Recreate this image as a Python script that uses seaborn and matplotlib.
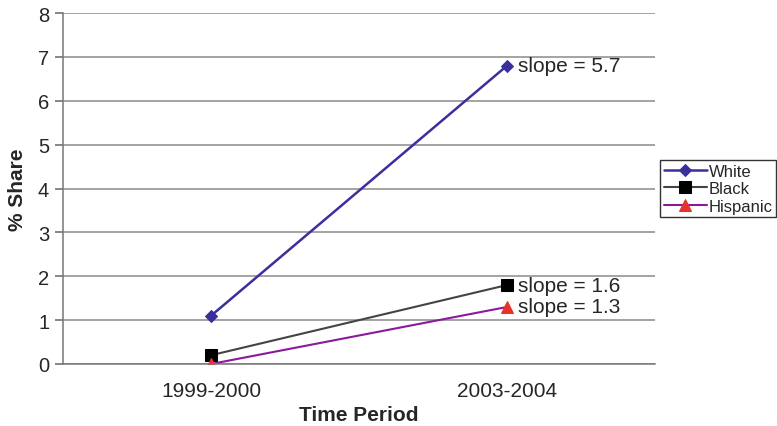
import matplotlib
matplotlib.use("Agg")
import matplotlib.pyplot as plt
import seaborn as sns
import pandas as pd

periods = ["1999-2000", "2003-2004"]
groups = ["White", "Black", "Hispanic"]
white = [1.1, 6.8]
black = [0.2, 1.8]
hispanic = [0.0, 1.3]
slope_labels = ["slope = 5.7", "slope = 1.6", "slope = 1.3"]
y_ticks = [0, 1, 2, 3, 4, 5, 6, 7, 8]

sns.set_theme(style="white")
plt.rcParams["font.family"] = ["Liberation Sans", "DejaVu Sans"]

x_pos = [0.5, 1.5]
df = pd.DataFrame({
    "x": x_pos * 3,
    "share": white + black + hispanic,
    "group": [g for g in groups for _ in periods],
})

styles = {
    "White": dict(color="#3b2f9e", marker="D", markersize=6.5,
                  markerfacecolor="#3b2f9e", markeredgecolor="#3b2f9e", lw=1.8),
    "Black": dict(color="#444444", marker="s", markersize=8,
                  markerfacecolor="black", markeredgecolor="black", lw=1.5),
    "Hispanic": dict(color="#8b1a9b", marker="^", markersize=9,
                     markerfacecolor="#e8322a", markeredgecolor="#e8322a", lw=1.5),
}

fig = plt.figure(figsize=(7.77, 4.27), dpi=100)
ax = fig.add_axes([0.0811, 0.1452, 0.7620, 0.8220])

for g in groups:
    sub = df[df["group"] == g]
    sns.lineplot(data=sub, x="x", y="share", ax=ax, label=g, **styles[g])

ax.set_xlim(0, 2)
ax.set_ylim(0, 8)
ax.set_yticks(y_ticks)
ax.set_yticklabels([str(t) for t in y_ticks], fontsize=14.5)
ax.set_xticks(x_pos)
ax.set_xticklabels(periods, fontsize=15)
ax.set_xticks([0, 1, 2], minor=True)
ax.tick_params(axis="x", which="major", length=0, pad=12)
ax.tick_params(axis="x", which="minor", length=5, color="#777777", direction="out")
ax.tick_params(axis="y", length=6, color="#777777", direction="out", left=True, pad=4)

ax.yaxis.grid(True, color="#8a8a8a", lw=1.1)
ax.set_axisbelow(True)
for side in ["top", "right"]:
    ax.spines[side].set_visible(False)
for side in ["left", "bottom"]:
    ax.spines[side].set_color("#777777")
    ax.spines[side].set_linewidth(1.1)

ax.set_xlabel("Time Period", fontsize=15, fontweight="bold", labelpad=4)
ax.set_ylabel("% Share", fontsize=15, fontweight="bold", labelpad=8)

for vals, txt in zip([white, black, hispanic], slope_labels):
    ax.annotate(txt, xy=(x_pos[1], vals[1]), xytext=(8, 0),
                textcoords="offset points", va="center", ha="left", fontsize=15)

leg = ax.legend(loc="center left", bbox_to_anchor=(1.009, 0.50), fontsize=12,
                frameon=True, fancybox=False, edgecolor="black",
                handlelength=2.6, handletextpad=0.1, labelspacing=0.15,
                borderpad=0.2, borderaxespad=0)
leg.get_frame().set_linewidth(1.0)

fig.savefig("out.png", dpi=100)
